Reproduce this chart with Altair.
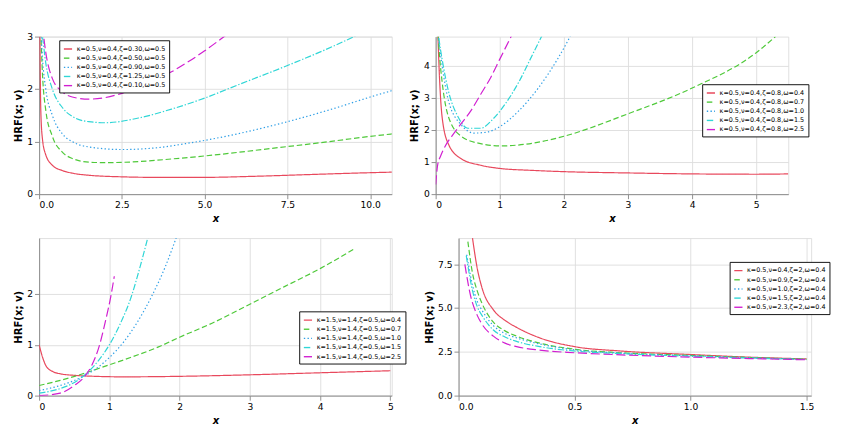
import altair as alt
import pandas as pd

# ---------- Panel 1 ----------
p1_labels = ["κ=0.5,ν=0.4,ζ=0.30,ω=0.5", "κ=0.5,ν=0.4,ζ=0.50,ω=0.5", "κ=0.5,ν=0.4,ζ=0.90,ω=0.5",
             "κ=0.5,ν=0.4,ζ=1.25,ω=0.5", "κ=0.5,ν=0.4,ζ=0.10,ω=0.5"]
p1_x = [[0.02, 0.05, 0.1, 0.2, 0.4, 0.7, 1.0, 1.5, 2.5, 3.5, 5, 6.5, 8, 9.5, 10.7],
        [0.05, 0.1, 0.2, 0.4, 0.7, 1.0, 1.5, 2.0, 3.0, 4.0, 5.5, 7, 8.5, 10, 10.7],
        [0.05, 0.1, 0.2, 0.4, 0.7, 1.0, 1.5, 2.5, 3.5, 4.5, 6, 7.5, 9, 10, 10.7],
        [0.05, 0.1, 0.2, 0.4, 0.7, 1.0, 1.5, 2.0, 3.0, 4.0, 5.0, 6.0, 7.5, 9.0, 10.0],
        [0.1, 0.2, 0.4, 0.7, 1.0, 1.5, 2.0, 2.5, 3.0, 3.5, 4.0, 4.5, 5.0, 5.5, 6.0]]
p1_y = [[3.2, 1.6, 1.05, 0.75, 0.55, 0.45, 0.4, 0.36, 0.33, 0.32, 0.32, 0.34, 0.37, 0.4, 0.42],
        [3.1, 2.3, 1.6, 1.1, 0.8, 0.68, 0.61, 0.6, 0.62, 0.67, 0.76, 0.87, 0.98, 1.1, 1.15],
        [3.2, 2.6, 2.0, 1.5, 1.15, 1.0, 0.9, 0.85, 0.88, 0.97, 1.15, 1.38, 1.65, 1.85, 1.98],
        [3.2, 3.0, 2.5, 2.0, 1.65, 1.48, 1.38, 1.36, 1.45, 1.62, 1.83, 2.08, 2.45, 2.85, 3.15],
        [3.2, 2.7, 2.2, 1.95, 1.85, 1.81, 1.84, 1.92, 2.03, 2.17, 2.33, 2.52, 2.73, 2.96, 3.2]]

# ---------- Panel 2 ----------
p2_labels = ["κ=0.5,ν=0.4,ζ=0.8,ω=0.4", "κ=0.5,ν=0.4,ζ=0.8,ω=0.7", "κ=0.5,ν=0.4,ζ=0.8,ω=1.0",
             "κ=0.5,ν=0.4,ζ=0.8,ω=1.5", "κ=0.5,ν=0.4,ζ=0.8,ω=2.5"]
p2_x = [[0.03, 0.06, 0.1, 0.2, 0.4, 0.7, 1.0, 1.5, 2.0, 3.0, 4.0, 5.0, 5.5],
        [0.03, 0.06, 0.1, 0.2, 0.4, 0.7, 1.0, 1.5, 2.0, 3.0, 4.0, 5.0, 5.3],
        [0.03, 0.06, 0.1, 0.2, 0.4, 0.6, 0.8, 1.0, 1.3, 1.6, 1.9, 2.15],
        [0.03, 0.06, 0.1, 0.2, 0.35, 0.5, 0.7, 0.9, 1.1, 1.3, 1.5, 1.75],
        [0.0, 0.03, 0.08, 0.15, 0.25, 0.4, 0.55, 0.7, 0.85, 1.0, 1.15, 1.25]]
p2_y = [[5.2, 3.6, 2.4, 1.55, 1.1, 0.9, 0.8, 0.74, 0.7, 0.66, 0.63, 0.62, 0.63],
        [5.2, 4.3, 3.5, 2.4, 1.8, 1.57, 1.5, 1.58, 1.8, 2.5, 3.3, 4.4, 4.9],
        [5.2, 4.6, 4.0, 2.9, 2.15, 1.9, 1.93, 2.1, 2.6, 3.3, 4.2, 5.1],
        [5.2, 4.7, 4.2, 3.2, 2.4, 2.05, 2.05, 2.35, 2.85, 3.5, 4.3, 5.3],
        [0.3, 0.9, 1.2, 1.5, 1.8, 2.2, 2.6, 3.1, 3.6, 4.2, 4.8, 5.2]]

# ---------- Panel 3 ----------
p3_labels = ["κ=1.5,ν=1.4,ζ=0.5,ω=0.4", "κ=1.5,ν=1.4,ζ=0.5,ω=0.7", "κ=1.5,ν=1.4,ζ=0.5,ω=1.0",
             "κ=1.5,ν=1.4,ζ=0.5,ω=1.5", "κ=1.5,ν=1.4,ζ=0.5,ω=2.5"]
p3_x = [[0.0, 0.05, 0.1, 0.2, 0.3, 0.5, 0.8, 1.2, 2.0, 3.0, 4.0, 5.0],
        [0.0, 0.3, 0.6, 0.9, 1.3, 1.7, 2.0, 2.5, 3.0, 3.5, 4.0, 4.5],
        [0.0, 0.3, 0.6, 0.8, 1.0, 1.2, 1.4, 1.6, 1.8, 2.0],
        [0.0, 0.3, 0.55, 0.7, 0.85, 1.0, 1.15, 1.3, 1.45, 1.6],
        [0.0, 0.3, 0.5, 0.65, 0.75, 0.85, 0.95, 1.02, 1.07]]
p3_y = [[1.0, 0.75, 0.58, 0.47, 0.43, 0.4, 0.38, 0.37, 0.38, 0.41, 0.45, 0.49],
        [0.2, 0.3, 0.42, 0.56, 0.75, 0.96, 1.15, 1.45, 1.8, 2.15, 2.5, 2.9],
        [0.1, 0.2, 0.36, 0.52, 0.75, 1.05, 1.45, 1.95, 2.55, 3.3],
        [0.05, 0.14, 0.3, 0.47, 0.7, 1.0, 1.4, 1.9, 2.6, 3.4],
        [0.0, 0.05, 0.2, 0.38, 0.6, 0.95, 1.5, 1.95, 2.35]]

# ---------- Panel 4 ----------
p4_labels = ["κ=0.5,ν=0.4,ζ=2,ω=0.4", "κ=0.5,ν=0.9,ζ=2,ω=0.4", "κ=0.5,ν=1.0,ζ=2,ω=0.4",
             "κ=0.5,ν=1.5,ζ=2,ω=0.4", "κ=0.5,ν=2.3,ζ=2,ω=0.4"]
p4_x = [[0.06, 0.08, 0.1, 0.15, 0.2, 0.25, 0.35, 0.5, 0.7, 1.0, 1.25, 1.5],
        [0.04, 0.06, 0.08, 0.1, 0.15, 0.2, 0.25, 0.35, 0.5, 0.7, 1.0, 1.25, 1.5],
        [0.035, 0.06, 0.08, 0.1, 0.15, 0.2, 0.25, 0.35, 0.5, 0.7, 1.0, 1.25, 1.5],
        [0.033, 0.06, 0.08, 0.1, 0.15, 0.2, 0.25, 0.35, 0.5, 0.7, 1.0, 1.25, 1.5],
        [0.027, 0.05, 0.08, 0.1, 0.15, 0.2, 0.25, 0.35, 0.5, 0.7, 1.0, 1.25, 1.5]]
p4_y = [[9.0, 7.3, 6.2, 4.9, 4.3, 3.9, 3.3, 2.8, 2.55, 2.35, 2.2, 2.1],
        [8.8, 7.0, 6.0, 5.3, 4.2, 3.7, 3.4, 3.0, 2.65, 2.45, 2.3, 2.18, 2.08],
        [8.05, 6.3, 5.4, 4.9, 4.0, 3.55, 3.3, 2.95, 2.62, 2.43, 2.28, 2.17, 2.07],
        [8.0, 6.0, 5.1, 4.6, 3.75, 3.35, 3.1, 2.8, 2.55, 2.4, 2.25, 2.15, 2.06],
        [7.5, 5.8, 4.6, 4.1, 3.4, 3.0, 2.8, 2.6, 2.45, 2.33, 2.2, 2.12, 2.05]]

colors = ["#e8495d", "#4fc93a", "#2f9fe6", "#2fd6d6", "#d11fd1"]
dashes = [[1, 0], [6, 3], [1.5, 2.5], [7, 2, 1.5, 2], [10, 4]]


def panel(labels, xs, ys, xdom, ydom, xvals, yvals, lx, ly, dx="", dy=""):
    rows = []
    for lab, xx, yy in zip(labels, xs, ys):
        for a, b in zip(xx, yy):
            rows.append({"s": lab, "x": a, "y": b})
    df = pd.DataFrame(rows)
    return alt.Chart(df).mark_line(clip=True, strokeWidth=1.3, interpolate="monotone").encode(
        x=alt.X("x:Q", scale=alt.Scale(domain=xdom, nice=False, zero=False),
                axis=alt.Axis(title="x", values=xvals, titleFontStyle="italic", format=dx)),
        y=alt.Y("y:Q", scale=alt.Scale(domain=ydom, nice=False),
                axis=alt.Axis(title="HRF(x; v)", values=yvals, format=dy)),
        color=alt.Color("s:N", scale=alt.Scale(domain=labels, range=colors),
                        legend=alt.Legend(title=None, orient="none", legendX=lx, legendY=ly,
                                          strokeColor="black", fillColor="white", padding=4,
                                          labelFontSize=7, symbolSize=80, symbolStrokeWidth=1.5,
                                          rowPadding=1, labelLimit=200)),
        strokeDash=alt.StrokeDash("s:N", scale=alt.Scale(domain=labels, range=dashes), legend=None),
        detail="s:N",
    ).properties(width=385, height=172)


c1 = panel(p1_labels, p1_x, p1_y, [0, 10.65], [0, 3], [0, 2.5, 5, 7.5, 10], [0, 1, 2, 3], 22, 4, ".1f")
c2 = panel(p2_labels, p2_x, p2_y, [0, 5.5], [0, 4.9], [0, 1, 2, 3, 4, 5], [0, 1, 2, 3, 4], 291, 52)
c3 = panel(p3_labels, p3_x, p3_y, [0, 5.02], [0, 3.1], [0, 1, 2, 3, 4, 5], [0, 1, 2], 284, 80)
c4 = panel(p4_labels, p4_x, p4_y, [0, 1.52], [0, 9.0], [0, 0.5, 1.0, 1.5], [0, 2.5, 5.0, 7.5], 296, 26, ".1f", ".1f")

top = alt.hconcat(c1, c2, spacing=18).resolve_scale(color="independent", strokeDash="independent")
bot = alt.hconcat(c3, c4, spacing=18).resolve_scale(color="independent", strokeDash="independent")
chart = alt.vconcat(top, bot, spacing=14).resolve_scale(color="independent", strokeDash="independent").configure_axis(
    labelFontSize=7, titleFontSize=9, gridColor="#e6e6e6", domainColor="#333", tickColor="#333",
    titlePadding=2, labelPadding=2,
).configure_view(stroke="#333").configure(font="DejaVu Sans")

chart.save("out.html", embed_options={"renderer": "svg", "actions": False})
